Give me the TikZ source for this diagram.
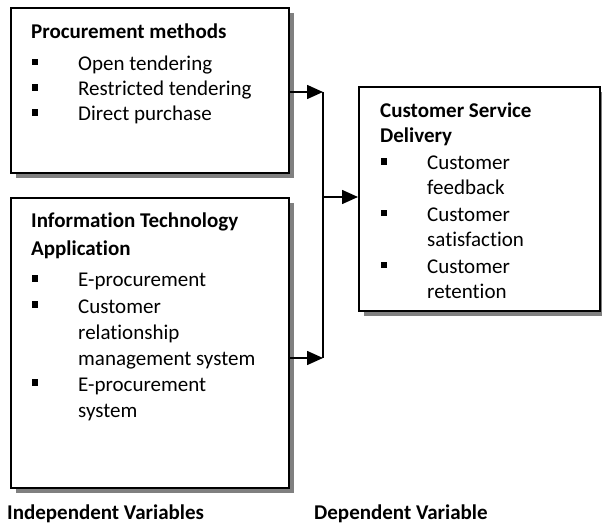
\documentclass[tikz,border=0pt]{standalone}
\usepackage{fontspec}
\setmainfont{Carlito}[Ligatures=NoCommon]
\usetikzlibrary{arrows.meta,shadows}
\begin{document}
\begin{tikzpicture}[x=1pt,y=-1pt,
  box/.style={draw=black,line width=1.6pt,fill=white,anchor=north west,inner sep=0pt,
    drop shadow={shadow xshift=5pt,shadow yshift=-5pt,fill=black!50,opacity=1}},
  txt/.style={anchor=base west,inner sep=0pt,font=\fontsize{21}{25}\selectfont},
  head/.style={txt,font=\fontsize{21}{25}\selectfont\bfseries},
  bul/.style={fill=black,inner sep=0pt,minimum width=6pt,minimum height=6.5pt},
  wire/.style={line width=1.6pt},
  arr/.style={wire,-{Triangle[length=16pt,width=14pt]}}]
\useasboundingbox (0,0) rectangle (602,529);

% boxes
\node[box,minimum width=278pt,minimum height=165pt] (pm) at (10,7) {};
\node[box,minimum width=278pt,minimum height=290pt] (it) at (10,197) {};
\node[box,minimum width=241pt,minimum height=224pt] (csd) at (358,86) {};

% procurement methods
\node[head] (pm-h) at (31,39) {Procurement methods};
\node[bul] (pm-b1) at (35,62) {};
\node[txt] (pm-1) at (78,71) {Open tendering};
\node[bul] (pm-b2) at (35,87.5) {};
\node[txt] (pm-2) at (78,96) {Restricted tendering};
\node[bul] (pm-b3) at (35,112.5) {};
\node[txt] (pm-3) at (78,121) {Direct purchase};

% information technology application
\node[head] (it-h1) at (31,228) {Information Technology};
\node[head] (it-h2) at (31,256) {Application};
\node[bul] (it-b1) at (35,278.5) {};
\node[txt] (it-1) at (78,287) {E-procurement};
\node[bul] (it-b2) at (35,304.5) {};
\node[txt] (it-2a) at (78,313) {Customer};
\node[txt] (it-2b) at (78,339) {relationship};
\node[txt] (it-2c) at (78,365) {management system};
\node[bul] (it-b3) at (35,382.5) {};
\node[txt] (it-3a) at (78,391) {E-procurement};
\node[txt] (it-3b) at (78,417) {system};

% customer service delivery
\node[head] (csd-h1) at (380,118) {Customer Service};
\node[head] (csd-h2) at (380,143) {Delivery};
\node[bul] (csd-b1) at (384,161.5) {};
\node[txt] (csd-1a) at (427,170) {Customer};
\node[txt] (csd-1b) at (427,195) {feedback};
\node[bul] (csd-b2) at (384,213) {};
\node[txt] (csd-2a) at (427,221.5) {Customer};
\node[txt] (csd-2b) at (427,247) {satisfaction};
\node[bul] (csd-b3) at (384,265) {};
\node[txt] (csd-3a) at (427,273.5) {Customer};
\node[txt] (csd-3b) at (427,298.5) {retention};

% connectors
\coordinate (j1) at (323,92);
\coordinate (jm) at (323,197);
\coordinate (j2) at (323,358);
\draw[arr] (pm.east |- j1) -- (j1);
\draw[arr] (it.east |- j2) -- (j2);
\draw[wire] (j1) -- (j2);
\draw[arr] (jm) -- (csd.west |- jm);

% captions
\node[head] (cap-iv) at (7,519) {Independent Variables};
\node[head] (cap-dv) at (314,519) {Dependent Variable};
\end{tikzpicture}
\end{document}
